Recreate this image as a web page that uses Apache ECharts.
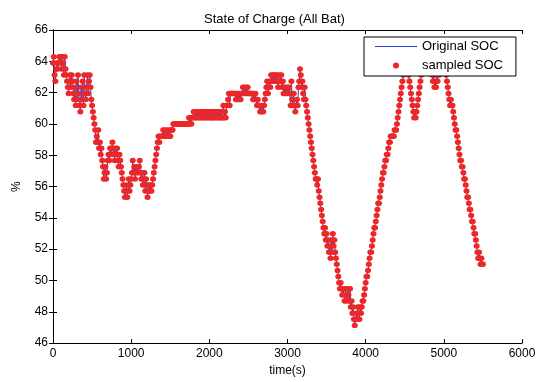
<!DOCTYPE html>
<html>
<head>
<meta charset="utf-8">
<script src="https://cdn.jsdelivr.net/npm/echarts@6/dist/echarts.min.js"></script>
<style>
html,body{margin:0;padding:0;background:#fff;}
#chart{width:549px;height:382px;}
</style>
</head>
<body>
<div id="chart"></div>
<script>
// Sample period of the SOC record (seconds)
const SAMPLE_PERIOD_S = 10;

// SOC (%), one value per 10 s, starting at t = 0 s
const socValues = [
  63.90, 64.29, 63.12, 62.73, 63.51, 63.90, 63.51, 63.90, 64.29, 63.90,
  64.29, 63.51, 64.29, 63.90, 63.12, 64.29, 63.51, 63.12, 62.73, 62.34,
  61.95, 62.73, 63.12, 62.34, 63.12, 62.73, 61.95, 61.56, 62.34, 61.17,
  62.73, 61.56, 63.12, 61.95, 61.17, 60.78, 62.34, 61.56, 62.73, 61.17,
  63.12, 61.95, 61.56, 62.34, 63.12, 61.95, 62.73, 63.12, 62.34, 61.56,
  61.17, 60.78, 60.39, 60.00, 59.61, 58.83, 59.22, 58.83, 59.61, 58.44,
  58.83, 58.05, 58.44, 57.66, 57.27, 56.49, 56.88, 57.27, 56.49, 56.88,
  57.66, 58.05, 57.66, 58.44, 58.05, 58.44, 58.83, 58.05, 58.44, 57.66,
  58.44, 58.05, 58.44, 57.66, 57.27, 58.05, 57.66, 57.27, 56.88, 56.49,
  56.10, 55.71, 55.32, 55.71, 56.10, 55.32, 55.71, 56.49, 55.71, 56.10,
  56.49, 56.88, 57.66, 56.88, 57.27, 56.49, 57.27, 56.88, 57.27, 56.88,
  57.27, 57.66, 56.88, 56.49, 56.88, 56.10, 56.49, 56.88, 55.71, 56.49,
  56.10, 55.32, 55.71, 56.10, 55.71, 56.10, 55.71, 56.10, 56.49, 56.88,
  57.27, 57.66, 58.05, 58.44, 58.83, 59.22, 58.83, 59.22, 59.22, 59.22,
  59.22, 59.61, 59.22, 59.61, 59.22, 59.22, 59.61, 59.22, 59.22, 59.61,
  59.22, 59.61, 59.61, 59.61, 60.00, 60.00, 60.00, 60.00, 60.00, 60.00,
  60.00, 60.00, 60.00, 60.00, 60.00, 60.00, 60.00, 60.00, 60.00, 60.00,
  60.00, 60.00, 60.00, 60.00, 60.39, 60.00, 60.39, 60.00, 60.39, 60.39,
  60.78, 60.39, 60.78, 60.39, 60.78, 60.39, 60.78, 60.39, 60.78, 60.39,
  60.78, 60.39, 60.78, 60.39, 60.78, 60.39, 60.78, 60.39, 60.78, 60.39,
  60.78, 60.39, 60.78, 60.39, 60.39, 60.78, 60.39, 60.78, 60.39, 60.78,
  60.39, 60.78, 60.39, 60.78, 60.39, 60.78, 60.39, 60.39, 61.17, 60.39,
  60.78, 60.39, 61.17, 61.17, 61.56, 61.95, 61.17, 61.95, 61.95, 61.95,
  61.95, 61.95, 61.95, 61.95, 61.56, 61.95, 61.56, 61.95, 61.56, 61.95,
  61.56, 61.95, 61.95, 62.34, 61.95, 62.34, 61.95, 62.34, 61.95, 62.34,
  61.95, 61.95, 61.95, 61.95, 61.95, 61.95, 61.56, 61.95, 61.56, 61.95,
  61.56, 61.17, 61.56, 61.17, 61.17, 60.78, 61.17, 60.78, 61.17, 60.78,
  61.17, 61.56, 61.95, 62.34, 62.73, 61.95, 62.34, 62.73, 62.34, 63.12,
  62.73, 63.12, 62.73, 63.12, 62.73, 63.12, 62.73, 63.12, 62.34, 62.73,
  63.12, 62.73, 63.12, 62.34, 62.73, 61.95, 62.34, 61.95, 62.34, 61.95,
  62.34, 61.95, 62.34, 61.95, 61.17, 62.73, 61.56, 61.17, 61.95, 61.17,
  60.78, 61.17, 61.56, 61.17, 62.34, 62.73, 63.51, 63.12, 62.34, 62.73,
  61.95, 61.56, 62.34, 61.56, 61.17, 60.78, 60.39, 60.00, 59.61, 59.22,
  58.83, 58.44, 58.05, 57.66, 57.27, 56.88, 56.49, 56.49, 56.10, 56.49,
  55.71, 55.32, 54.93, 54.54, 54.15, 53.76, 53.37, 52.98, 53.37, 52.59,
  52.98, 52.20, 52.59, 51.81, 52.20, 51.42, 52.59, 51.81, 52.98, 52.20,
  52.59, 51.81, 51.42, 51.03, 50.64, 50.25, 49.86, 49.47, 49.86, 49.47,
  49.08, 49.47, 49.47, 48.69, 49.47, 49.08, 48.69, 49.47, 49.08, 48.69,
  49.47, 48.30, 48.69, 47.91, 48.30, 47.52, 47.13, 47.52, 47.91, 47.52,
  48.30, 47.91, 47.52, 48.30, 47.91, 48.30, 48.69, 48.69, 49.08, 49.47,
  49.86, 50.25, 50.25, 50.64, 51.03, 51.42, 51.81, 51.81, 52.20, 52.59,
  52.98, 53.37, 53.37, 53.76, 54.15, 54.54, 54.93, 54.93, 55.32, 55.71,
  56.10, 56.49, 56.88, 56.88, 57.27, 57.66, 57.66, 58.05, 58.05, 58.44,
  58.83, 58.83, 59.22, 59.22, 59.22, 59.22, 59.22, 59.61, 59.61, 59.61,
  60.00, 60.39, 60.78, 61.17, 61.56, 61.95, 62.34, 62.73, 63.12, 63.51,
  63.90, 64.29, 64.29, 63.90, 63.51, 63.12, 62.73, 62.34, 61.95, 61.56,
  61.17, 60.78, 60.39, 60.78, 60.39, 60.78, 61.17, 61.56, 61.95, 62.34,
  62.73, 63.12, 63.51, 63.90, 64.29, 64.29, 64.68, 64.29, 64.68, 64.29,
  63.90, 64.29, 63.90, 63.51, 63.51, 63.12, 62.73, 63.12, 62.34, 62.73,
  62.34, 63.12, 62.73, 63.51, 63.12, 63.90, 64.29, 64.29, 64.68, 64.29,
  64.29, 63.90, 63.51, 63.12, 62.73, 62.34, 61.95, 61.56, 61.17, 61.56,
  61.17, 61.17, 60.78, 60.39, 60.00, 59.61, 59.61, 59.22, 58.83, 58.44,
  58.05, 57.66, 57.66, 57.27, 57.27, 56.88, 56.49, 56.49, 56.10, 55.71,
  55.32, 55.32, 54.93, 54.54, 54.54, 54.15, 53.76, 53.76, 53.37, 52.98,
  52.98, 52.59, 52.20, 51.81, 51.42, 51.81, 51.42, 51.03, 51.42, 51.03,
  51.03
];

// Axis settings (tick values)
const xTicks = { min: 0, max: 6000, interval: 1000 };
const yTicks = { min: 46, max: 66, interval: 2 };

const seriesNames = ['Original SOC', 'sampled SOC'];
const chartTitle = 'State of Charge (All Bat)';
const xName = 'time(s)';
const yName = '%';

const points = socValues.map((v, i) => [i * SAMPLE_PERIOD_S, v]);

const FONT = '"Liberation Sans", Arial, Helvetica, sans-serif';
const chart = echarts.init(document.getElementById('chart'), null, { renderer: 'canvas' });

const LINE_BLUE = '#2a3fd0';
const DOT_RED = '#ee2626';
const baseAxisLine = { show: true, lineStyle: { color: '#000', width: 1 } };
const tickIn = { show: true, inside: true, length: 4, lineStyle: { color: '#000', width: 1 } };
const plainNum = (v) => String(v);

chart.setOption({
  animation: false,
  backgroundColor: '#fff',
  title: {
    text: chartTitle,
    left: 'center',
    top: 8,
    textStyle: { fontFamily: FONT, fontSize: 13, fontWeight: 'normal', color: '#000' }
  },
  grid: { left: 53, right: 27, top: 30, bottom: 34, containLabel: false },
  legend: {
    data: [
      { name: seriesNames[0], icon: 'path://M0,0 L42,0 L42,1 L0,1 Z', itemStyle: { color: LINE_BLUE } },
      { name: seriesNames[1], icon: 'circle', itemStyle: { color: DOT_RED } }
    ],
    orient: 'vertical',
    left: 364,
    top: 37,
    itemWidth: 42,
    itemHeight: 6,
    itemGap: 6,
    padding: [3, 13, 4, 11],
    backgroundColor: '#fff',
    borderColor: '#000',
    borderWidth: 1,
    borderRadius: 0,
    z: 10,
    textStyle: { fontFamily: FONT, fontSize: 13, color: '#000' }
  },
  xAxis: [
    {
      type: 'value', position: 'bottom',
      min: xTicks.min, max: xTicks.max, interval: xTicks.interval,
      name: xName, nameLocation: 'middle', nameGap: 18,
      nameTextStyle: { fontFamily: FONT, fontSize: 12, color: '#000' },
      axisLine: baseAxisLine, axisTick: tickIn,
      axisLabel: { fontFamily: FONT, fontSize: 12, color: '#000', margin: 5, formatter: plainNum },
      splitLine: { show: false }
    },
    {
      type: 'value', position: 'top',
      min: xTicks.min, max: xTicks.max, interval: xTicks.interval,
      axisLine: baseAxisLine, axisTick: tickIn,
      axisLabel: { show: false }, splitLine: { show: false }
    }
  ],
  yAxis: [
    {
      type: 'value', position: 'left',
      min: yTicks.min, max: yTicks.max, interval: yTicks.interval,
      name: yName, nameLocation: 'middle', nameGap: 30, nameRotate: 90,
      nameTextStyle: { fontFamily: FONT, fontSize: 12, color: '#000' },
      axisLine: baseAxisLine, axisTick: tickIn,
      axisLabel: { fontFamily: FONT, fontSize: 12, color: '#000', margin: 5, formatter: plainNum },
      splitLine: { show: false }
    },
    {
      type: 'value', position: 'right',
      min: yTicks.min, max: yTicks.max, interval: yTicks.interval,
      axisLine: baseAxisLine, axisTick: tickIn,
      axisLabel: { show: false }, splitLine: { show: false }
    }
  ],
  series: [
    {
      name: seriesNames[0],
      type: 'line',
      data: points,
      showSymbol: false,
      symbol: 'none',
      lineStyle: { color: LINE_BLUE, width: 1 },
      itemStyle: { color: LINE_BLUE },
      z: 2
    },
    {
      name: seriesNames[1],
      type: 'scatter',
      data: points,
      symbol: 'circle',
      symbolSize: [6, 5.5],
      itemStyle: { color: DOT_RED, opacity: 1 },
      z: 3
    }
  ]
});
</script>
</body>
</html>
